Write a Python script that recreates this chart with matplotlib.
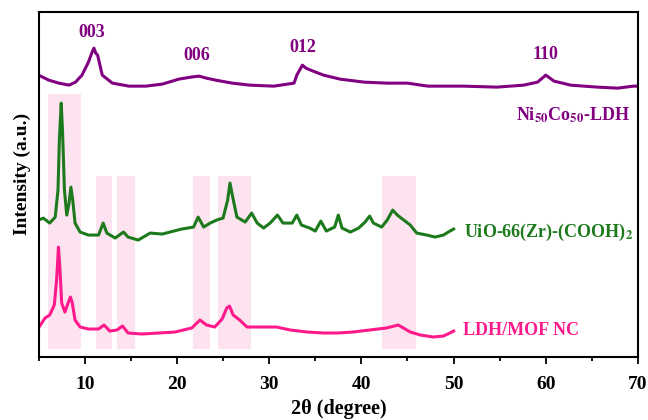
import matplotlib
matplotlib.use("Agg")
import matplotlib.pyplot as plt

plt.rcParams['font.family'] = ['Liberation Serif', 'DejaVu Serif']
plt.rcParams['font.weight'] = 'bold'
plt.rcParams['mathtext.fontset'] = 'stix'

# Ni50Co50-LDH (purple)
ldh_x = [5.0, 6.1, 7.2, 8.3, 9.0, 9.7, 10.4, 10.8, 11.0, 11.2, 11.4, 11.9, 13.0, 14.8, 16.6, 18.4,
         20.2, 21.5, 22.4, 23.2, 24.2, 26.0, 27.9, 30.5, 32.7, 33.0, 33.6, 34.0, 34.5, 35.9, 37.7, 40.3,
         42.8, 45.0, 47.2, 51.1, 54.7, 57.6, 59.1, 60.0, 60.9, 62.7, 65.6, 67.8, 69.5, 70.0]
ldh_y = [282, 277, 274, 272, 275, 282, 295, 305, 309, 304, 302, 282, 274, 271, 271, 273,
         278, 280, 281, 279, 277, 274, 272, 271, 274, 282, 292, 289, 287, 282, 278, 275,
         274, 274, 271, 271, 270, 272, 275, 282, 276, 272, 270, 269, 271, 271]

# UiO-66(Zr)-(COOH)2 (green)
uio_x = [5.0, 5.5, 6.2, 6.8, 7.1, 7.25, 7.45, 7.6, 7.8, 8.05, 8.3, 8.5, 8.7, 8.95, 9.5,
         10.4, 11.5, 12.0, 12.4, 13.3, 14.2, 14.7, 15.8, 17.1, 18.4, 20.5, 21.8, 22.3,
         22.9, 23.6, 24.3, 25.0, 25.5, 25.75, 26.05, 26.5, 27.4, 28.1, 28.7, 29.4, 30.1,
         30.9, 31.5, 32.5, 33.0, 33.5, 34.4, 35.0, 35.6, 36.2, 37.1, 37.5, 37.9, 38.8,
         39.7, 40.4, 40.9, 41.3, 42.2, 42.8, 43.4, 43.9, 44.6, 45.3, 46.0, 47.1, 48.0,
         48.9, 49.6, 50.0]
uio_y = [137, 139, 134, 140, 167, 217, 254, 224, 167, 142, 154, 170, 157, 134, 125,
         122, 122, 134, 124, 119, 125, 120, 117, 124, 123, 128, 130, 140,
         130, 134, 137, 139, 157, 174, 160, 140, 135, 144, 134, 129, 134,
         142, 134, 134, 142, 132, 129, 126, 136, 126, 130, 142, 129, 125,
         129, 135, 141, 134, 130, 137, 147, 142, 137, 132, 124, 122, 120,
         122, 126, 128]

# LDH/MOF NC (pink)
nc_x = [5.05, 5.7, 6.2, 6.7, 6.95, 7.15, 7.3, 7.5, 7.85, 8.2, 8.45, 8.65, 8.95, 9.5,
        10.4, 11.5, 12.1, 12.7, 13.5, 14.1, 14.7, 16.2, 18.0, 19.8, 21.6, 22.5, 23.2,
        24.1, 24.9, 25.4, 25.7, 26.1, 26.8, 27.6, 29.0, 30.8, 32.3, 34.1, 35.9, 37.4,
        39.1, 40.9, 42.7, 44.0, 45.3, 46.4, 47.8, 48.9, 49.6, 50.0]
nc_y = [30, 39, 42, 52, 77, 110, 90, 54, 45, 54, 60, 54, 37, 30,
        28, 28, 32, 26, 27, 31, 24, 23, 24, 25, 29, 37, 32,
        30, 38, 49, 51, 42, 37, 30, 30, 30, 27, 25, 24, 24,
        25, 27, 29, 32, 25, 22, 20, 21, 24, 26]

# highlighted 2θ ranges (start, end) and their vertical extents
band_ranges = [(6.05, 9.6), (11.26, 13.0), (13.5, 15.4), (21.7, 23.6), (24.4, 28.0), (42.2, 45.9)]
band_tops = [263, 181, 181, 181, 181, 181]
band_bottom = 8

peak_labels = ['003', '006', '012', '110']
peak_pos = [(10.8, 325), (22.2, 302), (33.6, 310), (60.0, 303)]

series_labels = [r'Ni$_{\mathbf{50}}$Co$_{\mathbf{50}}$-LDH', r'UiO-66(Zr)-(COOH)$_{\mathbf{2}}$', 'LDH/MOF NC']
series_colors = ['#800080', '#1c7a1c', '#ff1a8c']
label_pos = [(56.8, 242), (51.1, 125), (51.0, 27)]

fig = plt.figure(figsize=(6.48, 4.2), dpi=100)
ax = fig.add_axes([0.0596, 0.15, 0.925, 0.821])

for (x0, x1), top in zip(band_ranges, band_tops):
    ax.fill_between([x0, x1], band_bottom, top, color='#fce3ef', lw=0, zorder=0)

ax.plot(ldh_x, ldh_y, color=series_colors[0], lw=2.2, zorder=2)
ax.plot(uio_x, uio_y, color=series_colors[1], lw=2.2, zorder=2)
ax.plot(nc_x, nc_y, color=series_colors[2], lw=2.2, zorder=2)

for lab, (px, py) in zip(peak_labels, peak_pos):
    ax.text(px, py, lab, color=series_colors[0], fontsize=13, fontweight='bold',
            ha='center', va='center')

for lab, col, (px, py) in zip(series_labels, series_colors, label_pos):
    ax.text(px, py, lab, color=col, fontsize=13, fontweight='bold', ha='left', va='center')

ax.set_xlim(5, 70)
ax.set_ylim(0, 345)
ax.set_xticks([10, 20, 30, 40, 50, 60, 70])
ax.set_xticks([5, 15, 25, 35, 45, 55, 65], minor=True)
ax.set_yticks([])
ax.tick_params(axis='x', which='major', direction='out', length=5, width=1.3, labelsize=14, pad=9)
ax.tick_params(axis='x', which='minor', direction='out', length=3, width=1.3)
for lbl in ax.get_xticklabels():
    lbl.set_fontweight('bold')
for sp in ax.spines.values():
    sp.set_linewidth(1.5)

ax.set_xlabel('2θ (degree)', fontsize=14.5, fontweight='bold', labelpad=4)
ax.set_ylabel('Intensity (a.u.)', fontsize=14, fontweight='bold')
ax.yaxis.set_label_coords(-0.012, 0.53)

fig.savefig('out.png', dpi=100)
